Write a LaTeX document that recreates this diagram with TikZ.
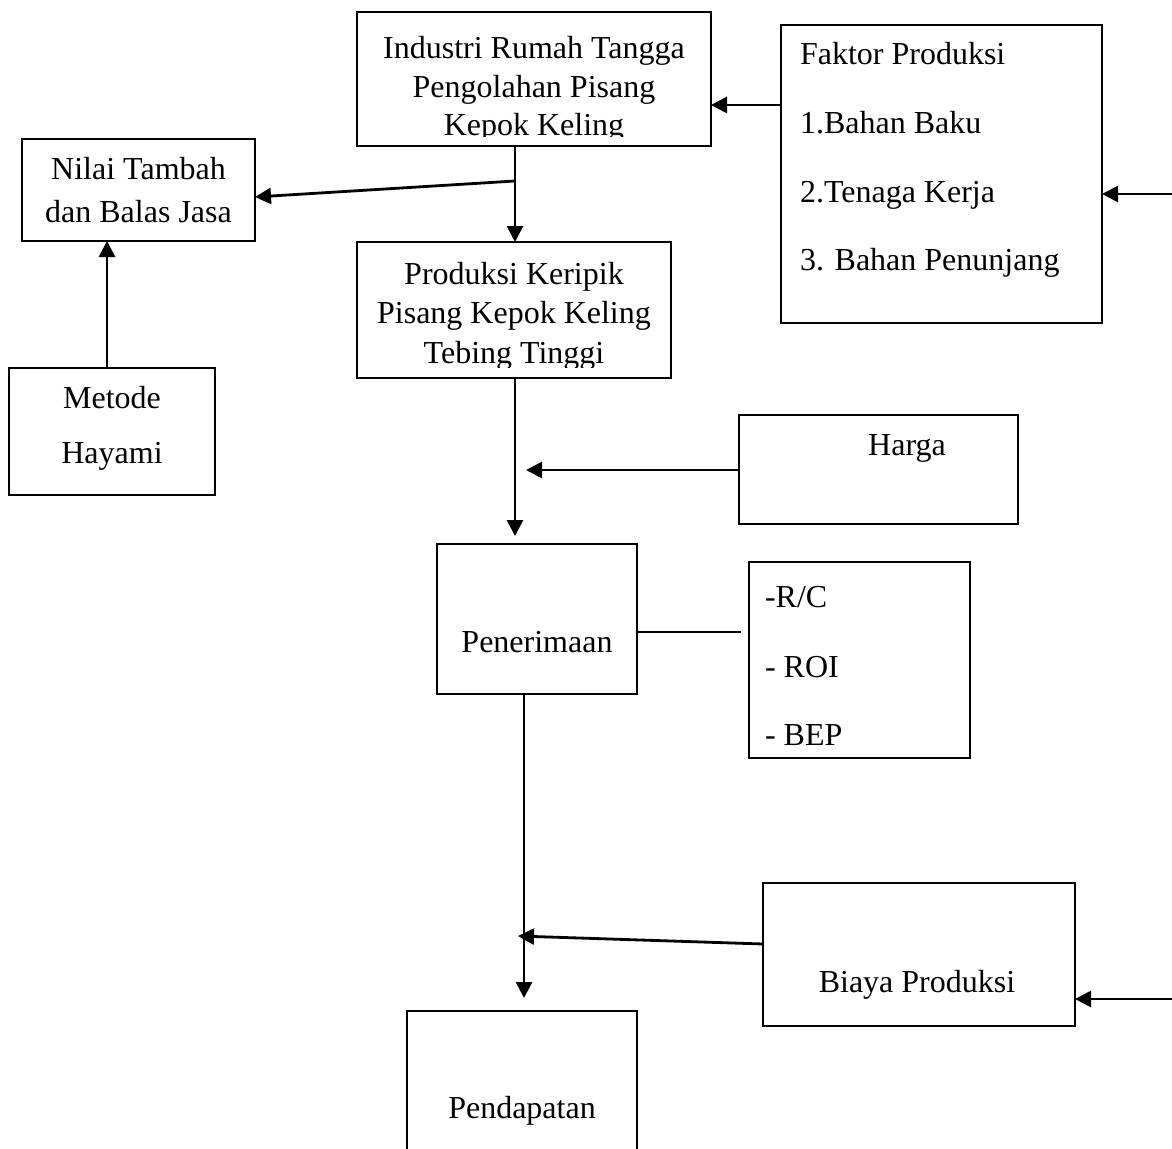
\documentclass[tikz,border=0pt]{standalone}
\usepackage{fontspec}
\setmainfont{Liberation Serif}
\usetikzlibrary{arrows.meta}
\begin{document}
\begin{tikzpicture}[x=1pt,y=-1pt,
  box/.style={draw, line width=2pt, inner sep=0pt, outer sep=0pt},
  txt/.style={inner sep=0pt, outer sep=0pt, font=\fontsize{32}{37}\selectfont},
  arr/.style={line width=2.8pt, -{Triangle[length=16pt,width=16pt]}},
  plain/.style={line width=2pt}]
\useasboundingbox (0,0) rectangle (1172,1148);
\clip (0,0) rectangle (1172,1148);
% boxes
\node[box, minimum width=354pt, minimum height=134pt] (ind) at (534,79) {};
\node[box, minimum width=321pt, minimum height=298pt] (fak) at (941.5,174) {};
\node[box, minimum width=233pt, minimum height=102pt] (nil) at (138.5,190) {};
\node[box, minimum width=314pt, minimum height=136pt] (prod) at (514,310) {};
\node[box, minimum width=206pt, minimum height=127pt] (met) at (112,431.5) {};
\node[box, minimum width=279pt, minimum height=109pt] (har) at (878.5,469.5) {};
\node[box, minimum width=200pt, minimum height=150pt] (pen) at (537,619) {};
\node[box, minimum width=221pt, minimum height=196pt] (rc) at (859.5,660) {};
\node[box, minimum width=312pt, minimum height=143pt] (bia) at (919,954.5) {};
\node[box, minimum width=230pt, minimum height=160pt] (pend) at (522,1091) {};
% texts
\begin{scope}
\clip (358,13) rectangle (710,136);
\node[txt, anchor=base] at (534,59) {Industri Rumah Tangga};
\node[txt, anchor=base] at (534,97) {Pengolahan Pisang};
\node[txt, anchor=base] at (534,135) {Kepok Keling};
\end{scope}
\begin{scope}
\clip (358,243) rectangle (670,367);
\node[txt, anchor=base] at (514,284) {Produksi Keripik};
\node[txt, anchor=base] at (514,323) {Pisang Kepok Keling};
\node[txt, anchor=base] at (514,363) {Tebing Tinggi};
\end{scope}
\node[txt, anchor=base west] at (800,65) {Faktor Produksi};
\node[txt, anchor=base west] at (800,133) {1.Bahan Baku};
\node[txt, anchor=base west] at (800,202) {2.Tenaga Kerja};
\node[txt, anchor=base west] at (800,270) {3. Bahan Penunjang};
\node[txt, anchor=base] at (138.5,179) {Nilai Tambah};
\node[txt, anchor=base] at (138.5,222) {dan Balas Jasa};
\node[txt, anchor=base] at (112,408) {Metode};
\node[txt, anchor=base] at (112,463) {Hayami};
\node[txt, anchor=base] at (907,455) {Harga};
\node[txt, anchor=base] at (537,652) {Penerimaan};
\node[txt, anchor=base west] at (765,607) {-R/C};
\node[txt, anchor=base west] at (765,677) {- ROI};
\node[txt, anchor=base west] at (765,745) {- BEP};
\node[txt, anchor=base] at (917,992) {Biaya Produksi};
\node[txt, anchor=base] at (522,1118) {Pendapatan};
% free ends
\coordinate (inR) at (1172,194);
\coordinate (inB) at (1172,999);
\coordinate (br) at (515,181);
\coordinate (hj) at (526,470);
\coordinate (bj) at (518,936);
\coordinate (rcend) at (741,632);
% connectors
\draw[arr] (fak.west |- 0,105) -- (ind.east |- 0,105);
\draw[arr] (inR) -- (fak.east |- inR);
\draw[arr] (ind.south -| br) -- (prod.north -| br);
\draw[arr] (br) -- (nil.east |- 0,197);
\draw[arr] (met.north -| 107,0) -- (nil.south -| 107,0);
\draw[arr, shorten >=8pt] (prod.south -| br) -- (pen.north -| br);
\draw[arr] (har.west |- hj) -- (hj);
\draw[plain] (pen.east |- rcend) -- (rcend);
\draw[arr, shorten >=13pt] (pen.south -| 524,0) -- (pend.north -| 524,0);
\draw[arr] (bia.west |- 0,944) -- (bj);
\draw[arr] (inB) -- (bia.east |- inB);
\end{tikzpicture}
\end{document}
